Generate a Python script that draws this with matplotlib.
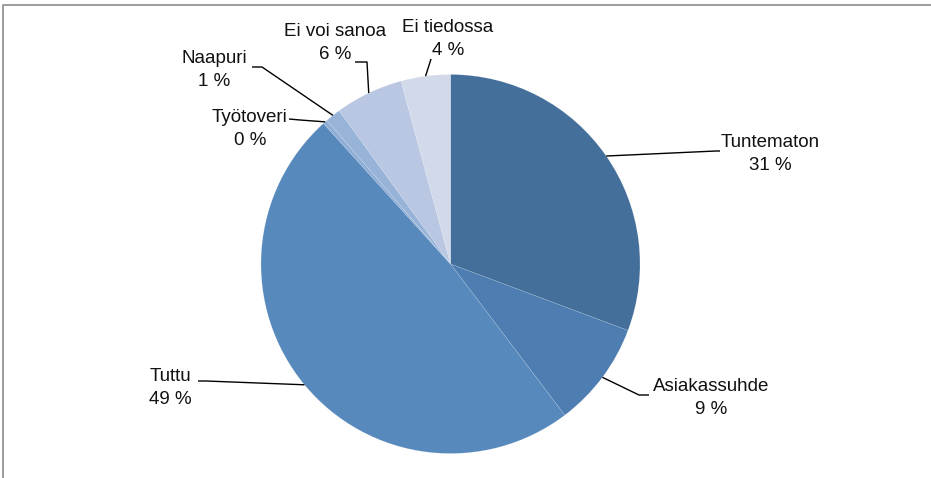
import matplotlib
matplotlib.use("Agg")
import matplotlib.pyplot as plt
import numpy as np

plt.rcParams['font.family'] = ['Liberation Sans', 'DejaVu Sans']

categories = ["Tuntematon", "Asiakassuhde", "Tuttu", "Työtoveri", "Naapuri", "Ei voi sanoa", "Ei tiedossa"]
values = [30.7, 9.0, 48.6, 0.4, 1.3, 5.8, 4.2]
colors = ["#456f9b", "#4e7eb1", "#5889bd", "#90aed6", "#98b3d8", "#b9c7e2", "#d2d9e9"]

W, H = 931, 478
fig = plt.figure(figsize=(W / 100, H / 100), dpi=100)
ax = fig.add_axes([0, 0, 1, 1])
ax.set_xlim(0, W)
ax.set_ylim(0, H)
ax.set_aspect('equal')
ax.axis('off')

def Y(y):
    return H - y

cx, cy, r = 450.5, 264, 189.5
wedges, _ = ax.pie(values, colors=colors, startangle=90, counterclock=False,
                   center=(cx, Y(cy)), radius=r,
                   wedgeprops=dict(edgecolor=(1, 1, 1, 0.3), linewidth=0.25))
ax.set_xlim(0, W)
ax.set_ylim(0, H)

# label layout (image pixel coordinates): text center x, text center y, elbow, end
layout = {
    "Tuntematon":   dict(tx=770, ty=154, elbow=(716, 151), end=(720, 151)),
    "Asiakassuhde": dict(tx=711, ty=398, elbow=(639, 395), end=(649, 395)),
    "Tuttu":        dict(tx=170, ty=388, elbow=(206, 381), end=(198, 381)),
    "Työtoveri":    dict(tx=250, ty=129, elbow=(300, 120), end=(289, 119)),
    "Naapuri":      dict(tx=214, ty=70,  elbow=(262, 67),  end=(252, 67)),
    "Ei voi sanoa": dict(tx=335, ty=43,  elbow=(367, 62),  end=(355, 62)),
    "Ei tiedossa":  dict(tx=448, ty=39,  elbow=(431, 59),  end=(431, 59)),
}

cum = 0.0
total = sum(values)
for cat, v in zip(categories, values):
    mid = (cum + v / 2) / total * 2 * np.pi
    cum += v
    ax_x = cx + r * np.sin(mid)
    ax_y = cy - r * np.cos(mid)
    L = layout[cat]
    xs = [ax_x, L['elbow'][0], L['end'][0]]
    ys = [Y(ax_y), Y(L['elbow'][1]), Y(L['end'][1])]
    ax.plot(xs, ys, color='black', lw=1.0, solid_capstyle='butt')
    ax.text(L['tx'], Y(L['ty']), f"{cat}\n{round(v):.0f} %", ha='center', va='center',
            fontsize=13.5, color='#111111', linespacing=1.45)

# outer frame
ax.plot([3, 3, W], [0, Y(5), Y(5)], color='#8c8c8c', lw=1.2, clip_on=False)

fig.savefig("out.png", dpi=100)
